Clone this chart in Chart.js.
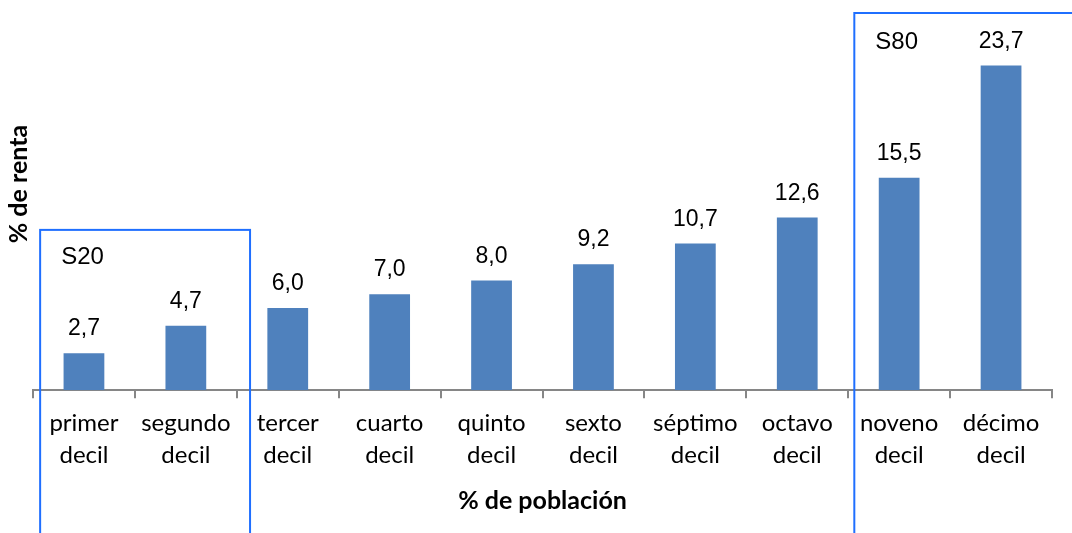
<!DOCTYPE html>
<html>
<head>
<meta charset="utf-8">
<script src="https://cdn.jsdelivr.net/npm/chart.js@4/dist/chart.umd.min.js"></script>
<style>
  html, body { margin: 0; padding: 0; background: #fff; }
  #wrap { width: 1072px; height: 533px; position: relative; }
</style>
</head>
<body>
<div id="wrap"><canvas id="rentaChart"></canvas></div>
<script>
// Distribución de la renta por deciles
const categorias = [
    ['primer', 'decil'], ['segundo', 'decil'], ['tercer', 'decil'], ['cuarto', 'decil'],
    ['quinto', 'decil'], ['sexto', 'decil'], ['séptimo', 'decil'], ['octavo', 'decil'],
    ['noveno', 'decil'], ['décimo', 'decil']
];
const porcentajeRenta = [2.7, 4.7, 6.0, 7.0, 8.0, 9.2, 10.7, 12.6, 15.5, 23.7];
const grupos = [
    { nombre: 'S20', desde: 0, hasta: 1 },
    { nombre: 'S80', desde: 8, hasta: 9 }
];

const fuenteEtiquetas = 'Lato, "Open Sans", sans-serif';
const fuenteNumeros = '"Liberation Sans", Arial, sans-serif';

// Valores encima de cada barra
const etiquetasValor = {
    id: 'etiquetasValor',
    afterDatasetsDraw(chart) {
        const ctx = chart.ctx;
        const meta = chart.getDatasetMeta(0);
        ctx.save();
        ctx.fillStyle = '#000';
        ctx.font = '23px ' + fuenteNumeros;
        ctx.textAlign = 'center';
        ctx.textBaseline = 'alphabetic';
        meta.data.forEach(function(bar, i) {
            const txt = porcentajeRenta[i].toFixed(1).replace('.', ',');
            ctx.fillText(txt, bar.x, bar.y - 18);
        });
        ctx.restore();
    }
};

// Recuadros S20 / S80 y título del eje vertical
const recuadros = {
    id: 'recuadros',
    afterDraw(chart) {
        const ctx = chart.ctx;
        const x = chart.scales.x;
        const y = chart.scales.y;
        const paso = x.getPixelForValue(1) - x.getPixelForValue(0);
        ctx.save();
        ctx.strokeStyle = '#1f6fff';
        ctx.lineWidth = 2;
        // S20: desde la izquierda del primer decil
        const s20 = grupos[0];
        const x1 = x.getPixelForValue(s20.desde) - paso * 0.43;
        const x2 = x.getPixelForValue(s20.hasta) + paso * 0.63;
        const yTop20 = y.getPixelForValue(11.7);
        ctx.strokeRect(x1, yTop20, x2 - x1, chart.height);
        ctx.fillStyle = '#000';
        ctx.font = '24px ' + fuenteNumeros;
        ctx.textAlign = 'left';
        ctx.textBaseline = 'middle';
        ctx.fillText(s20.nombre, x1 + 21, yTop20 + 27);
        // S80
        const s80 = grupos[1];
        const x3 = x.getPixelForValue(s80.desde) - paso * 0.44;
        const yTop80 = 13;
        ctx.strokeRect(x3, yTop80, chart.width, chart.height);
        ctx.fillText(s80.nombre, x3 + 21, yTop80 + 29);
        // título eje y
        ctx.translate(19, 184);
        ctx.rotate(-Math.PI / 2);
        ctx.font = 'bold 25px ' + fuenteEtiquetas;
        ctx.textAlign = 'center';
        ctx.fillText('% de renta', 0, 0);
        ctx.restore();
    }
};

const ctx = document.getElementById('rentaChart');
new Chart(ctx, {
    type: 'bar',
    data: {
        labels: categorias,
        datasets: [{
            label: '% de renta',
            data: porcentajeRenta,
            backgroundColor: '#4f81bd',
            barPercentage: 0.4,
            categoryPercentage: 1.0
        }]
    },
    options: {
        responsive: true,
        maintainAspectRatio: false,
        animation: false,
        layout: {
            padding: { left: 33, right: 20, top: 34, bottom: 17 }
        },
        plugins: {
            legend: { display: false },
            tooltip: { enabled: false }
        },
        scales: {
            x: {
                grid: {
                    offset: true,
                    drawOnChartArea: false,
                    drawTicks: true,
                    tickLength: 8,
                    color: '#868686',
                    lineWidth: 2
                },
                border: { color: '#868686', width: 2 },
                ticks: {
                    color: '#000',
                    font: { family: fuenteEtiquetas, size: 24, lineHeight: 1.33 },
                    padding: 9,
                    maxRotation: 0,
                    autoSkip: false
                },
                title: {
                    display: true,
                    text: '% de población',
                    color: '#000',
                    font: { family: fuenteEtiquetas, size: 25, weight: 'bold' },
                    padding: { top: 6, bottom: 0 }
                }
            },
            y: {
                display: false,
                min: 0,
                max: 26
            }
        }
    },
    plugins: [etiquetasValor, recuadros]
});
</script>
</body>
</html>
